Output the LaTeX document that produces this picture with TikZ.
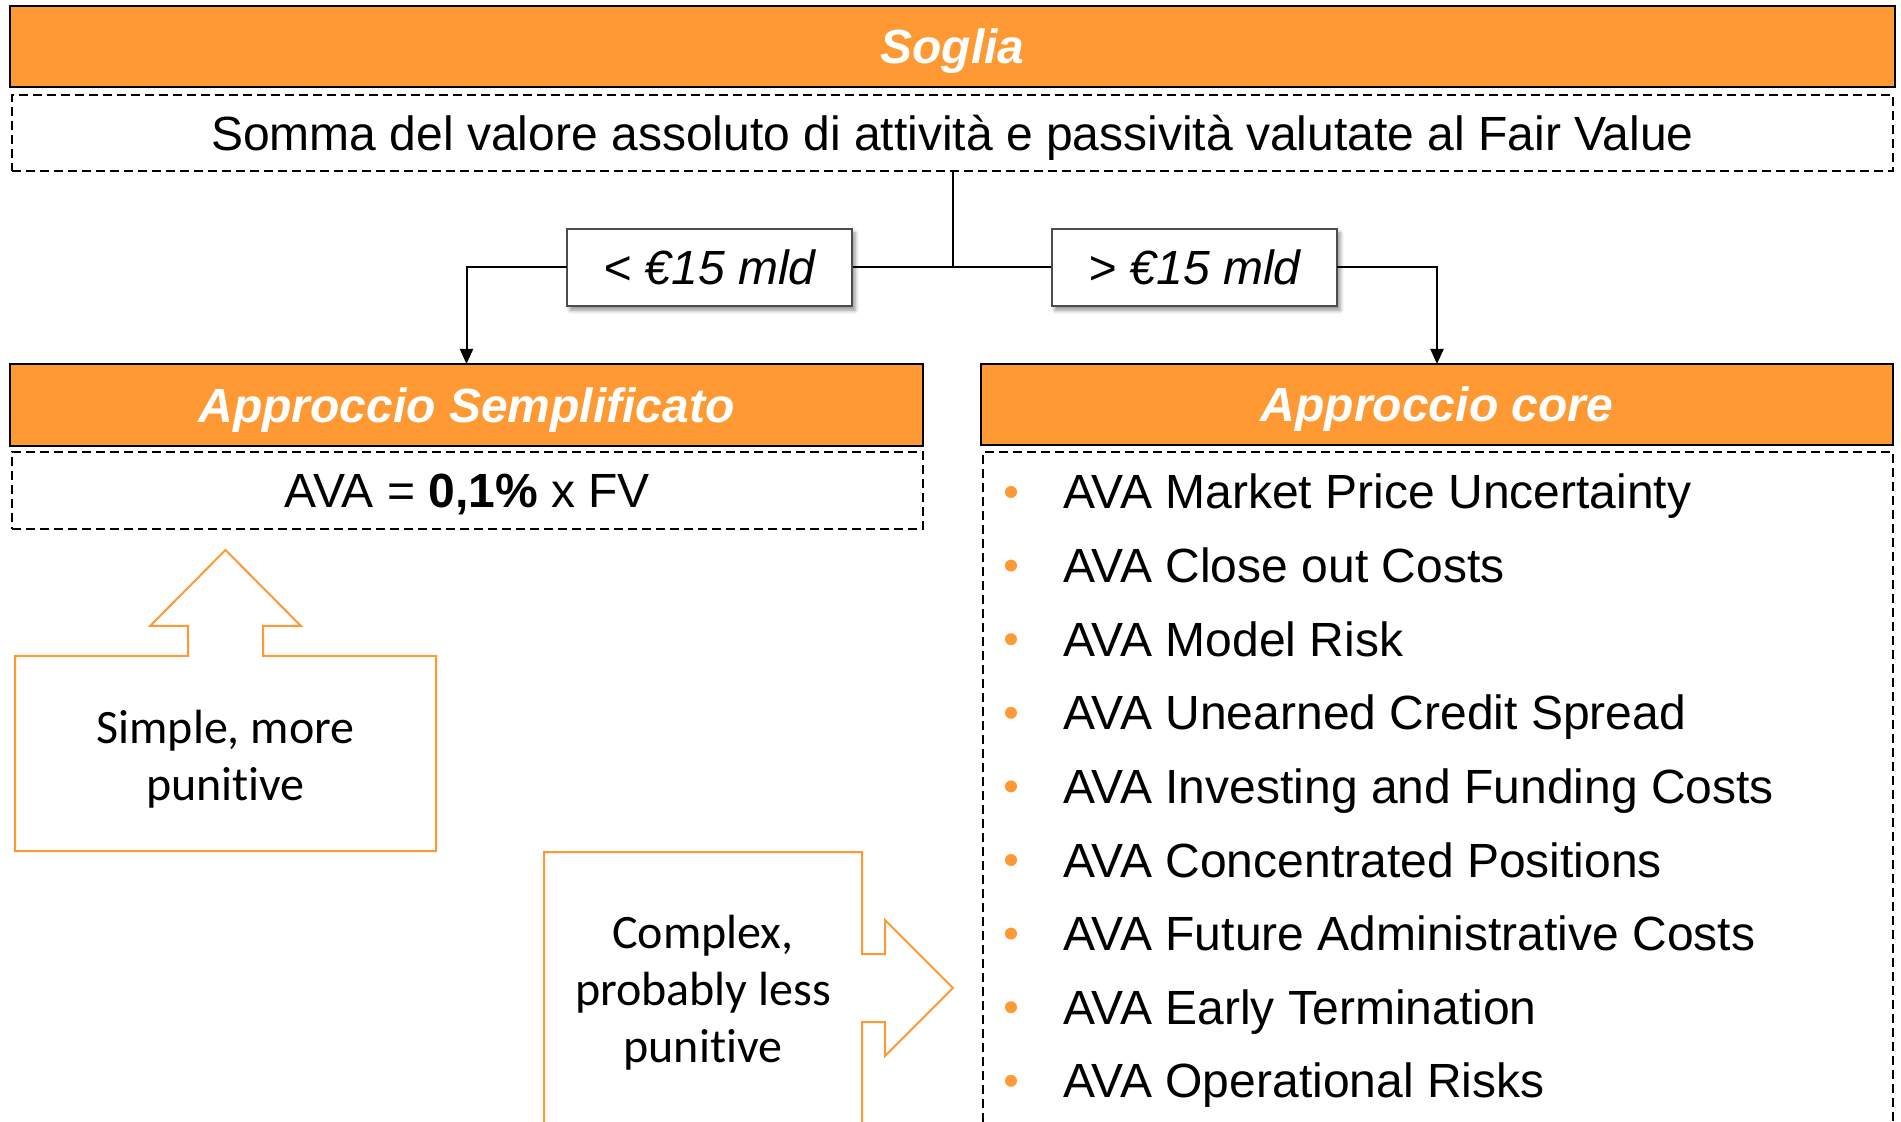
\documentclass[tikz,border=0pt]{standalone}
\usepackage{fontspec}
\setmainfont{Liberation Sans}
\newfontfamily\calibfont[Ligatures=CommonOff]{Carlito}
\usetikzlibrary{arrows.meta,shadows.blur}
\definecolor{orng}{RGB}{255,153,51}
\begin{document}
\begin{tikzpicture}[x=0.5pt,y=-0.5pt,
  fixtext/.style={text height=17.2pt, text depth=0pt},
  bar/.style={draw=black, line width=1pt, fill=orng, text=white, font=\fontsize{24}{28}\selectfont\bfseries\itshape, inner sep=0pt, outer sep=0pt, fixtext},
  dbox/.style={draw=black, dash pattern=on 4.5pt off 2.5pt, line width=0.75pt, inner sep=0pt, outer sep=0pt, font=\fontsize{24}{28}\selectfont, fixtext},
  dline/.style={draw=black, dash pattern=on 4.5pt off 2.5pt, line width=0.75pt},
  lbl/.style={draw=black!70, line width=0.6pt, fill=white, font=\fontsize{24}{28}\selectfont\itshape, inner sep=0pt, outer sep=0pt, minimum width=142.5pt, minimum height=38.5pt, fixtext, blur shadow={shadow xshift=1.5pt, shadow yshift=-2pt, shadow blur radius=2pt, shadow opacity=45}},
  conn/.style={draw=black, line width=1pt},
  arr/.style={conn, -{Triangle[width=6.5pt,length=7.5pt]}},
  hollow/.style={draw=orng, line width=1pt, fill=white},
  note/.style={font=\calibfont\fontsize{24}{28.5}\selectfont, align=center},
  dot/.style={circle, fill=orng, inner sep=0pt, minimum size=6pt},
  item/.style={anchor=base west, font=\fontsize{24}{28}\selectfont, inner sep=0pt},
]
\useasboundingbox (0,0) rectangle (1901,1122);

\node[bar, minimum width=942.5pt, minimum height=40.5pt] (soglia) at (952.5,46.5) {Soglia};
\node[dbox, minimum width=940.5pt, minimum height=38pt] (somma) at (952.5,133) {Somma del valore assoluto di attività e passività valutate al Fair Value};
\coordinate (junc) at (952.5,267.5);

\node[bar, minimum width=456.5pt, minimum height=41pt] (simpl) at (466.5,405) {Approccio Semplificato};
\node[bar, minimum width=456pt, minimum height=40.5pt] (core) at (1437,404.5) {Approccio core};
\node[dbox, minimum width=455.5pt, minimum height=38.5pt] (ava) at (467.5,490.5) {AVA = \textbf{0,1\%} x FV};

\draw[dline] (983,1122) -- (983,452) -- (1893,452) -- (1893,1122);

\draw[conn] (somma.south) -- (junc);
\draw[conn] (709.5,267.5) -- (1194.5,267.5);
\node[lbl] (lt) at (709.5,267.5) {< €15 mld};
\node[lbl] (gt) at (1194.5,267.5) {> €15 mld};
\draw[arr] (lt.west) -| (simpl.north);
\draw[arr] (gt.east) -| (core.north);

\draw[hollow] (15,851) -- (15,656) -- (188,656) -- (188,626) -- (150,626) -- (225.5,550) -- (301,626) -- (263,626) -- (263,656) -- (436,656) -- (436,851) -- cycle;
\node[note] (simple) at (225.5,759) {Simple, more\\punitive};

\draw[hollow] (544,1122) -- (544,852) -- (862,852) -- (862,954) -- (885,954) -- (885,920) -- (953,988) -- (885,1056) -- (885,1022) -- (862,1022) -- (862,1122);
\node[note] (complex) at (703,993) {Complex,\\probably less\\punitive};

\foreach \t [count=\i from 0] in {AVA Market Price Uncertainty, AVA Close out Costs, AVA Model Risk, AVA Unearned Credit Spread, AVA Investing and Funding Costs, AVA Concentrated Positions, AVA Future Administrative Costs, AVA Early Termination, AVA Operational Risks} {
  \pgfmathsetmacro\yy{492+73.6*\i}
  \node[dot] (d\i) at (1011,\yy) {};
  \node[item] (it\i) at (1063,{\yy+17}) {\t};
}
\end{tikzpicture}
\end{document}
